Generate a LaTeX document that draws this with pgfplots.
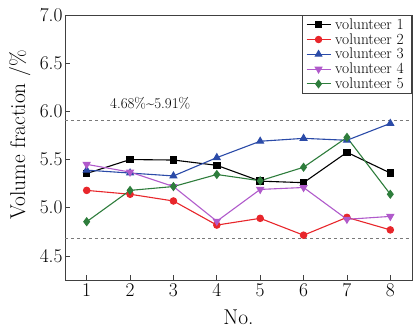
\documentclass[border=0pt]{standalone}
\usepackage{fontspec}
\usepackage{pgfplots}
\pgfplotsset{compat=1.18}
\definecolor{cblack}{HTML}{000000}
\definecolor{cred}{HTML}{E8262B}
\definecolor{cblue}{HTML}{2B4BA8}
\definecolor{cpurple}{HTML}{B05ACB}
\definecolor{cgreen}{HTML}{2E7D3C}
\definecolor{axgray}{HTML}{404040}
\newcommand{\lf}{\fontsize{15.5}{16}\selectfont}
\begin{document}
\begin{tikzpicture}
\begin{axis}[
  name=ax,
  scale only axis,
  width=347bp, height=265bp,
  xmin=0.5, xmax=8.5, ymin=4.25, ymax=7.0,
  xtick={1,...,8},
  ytick={4.5,5.0,5.5,6.0,6.5,7.0},
  /pgf/number format/assume math mode=true,
  yticklabel style={/pgf/number format/fixed, /pgf/number format/fixed zerofill, /pgf/number format/precision=1, xshift=1bp},
  tick align=inside,
  xtick pos=left, ytick pos=left,
  major tick length=5bp,
  axis line style={axgray, line width=0.9bp},
  tick style={axgray, line width=0.8bp},
  tick label style={font=\fontsize{19.5}{22}\selectfont},
  label style={font=\fontsize{21.5}{24}\selectfont},
  xlabel={No.},
  ylabel={Volume fraction /\%},
  xlabel style={at={(axis description cs:0.5,0)}, anchor=center, yshift=-37bp},
  ylabel style={at={(axis description cs:-0.13,0.547)}, anchor=center},
  legend style={at={(1,1)}, anchor=north east, draw=axgray, line width=0.6bp,
    row sep=0bp, inner xsep=4bp, inner ysep=2bp, font=\lf,
    nodes={inner xsep=4bp, inner ysep=1.3bp}},
  legend cell align=left,
  legend image code/.code={%
    \draw[mark repeat=2, mark phase=2, #1] plot coordinates {(0bp,0bp) (12bp,0bp) (24bp,0bp)};},
  legend image post style={line width=1bp},
  every axis plot/.append style={line width=1.1bp, mark size=3.2bp},
]
\addplot[axgray!70, dashed, line width=0.9bp, forget plot] coordinates {(0.5,5.91) (8.5,5.91)};
\addplot[axgray!70, dashed, line width=0.9bp, forget plot] coordinates {(0.5,4.68) (8.5,4.68)};
\addplot[cblack, mark=square*] coordinates {(1,5.355) (2,5.50) (3,5.495) (4,5.44) (5,5.276) (6,5.26) (7,5.575) (8,5.36)};
\addlegendentry{\lf volunteer 1}
\addplot[cred, mark=*] coordinates {(1,5.18) (2,5.14) (3,5.07) (4,4.82) (5,4.89) (6,4.715) (7,4.90) (8,4.77)};
\addlegendentry{\lf volunteer 2}
\addplot[cblue, mark=triangle*, mark size=3.8bp] coordinates {(1,5.39) (2,5.36) (3,5.33) (4,5.52) (5,5.69) (6,5.72) (7,5.70) (8,5.875)};
\addlegendentry{\lf volunteer 3}
\addplot[cpurple, mark=triangle*, mark size=3.8bp, mark options={rotate=180}] coordinates {(1,5.45) (2,5.37) (3,5.22) (4,4.86) (5,5.19) (6,5.21) (7,4.88) (8,4.91)};
\addlegendentry{\lf volunteer 4}
\addplot[cgreen, mark=diamond*, mark size=3.8bp] coordinates {(1,4.855) (2,5.18) (3,5.22) (4,5.345) (5,5.28) (6,5.42) (7,5.73) (8,5.14)};
\addlegendentry{\lf volunteer 5}
\node[anchor=west, font=\fontsize{15}{16}\selectfont] at (axis cs:1.46,6.08) {4.68\%\textasciitilde5.91\%};
\end{axis}
\pgfresetboundingbox
\path ([shift={(-65bp,-47bp)}]ax.south west) rectangle ([shift={(1bp,15bp)}]ax.north east);
\end{tikzpicture}
\end{document}
